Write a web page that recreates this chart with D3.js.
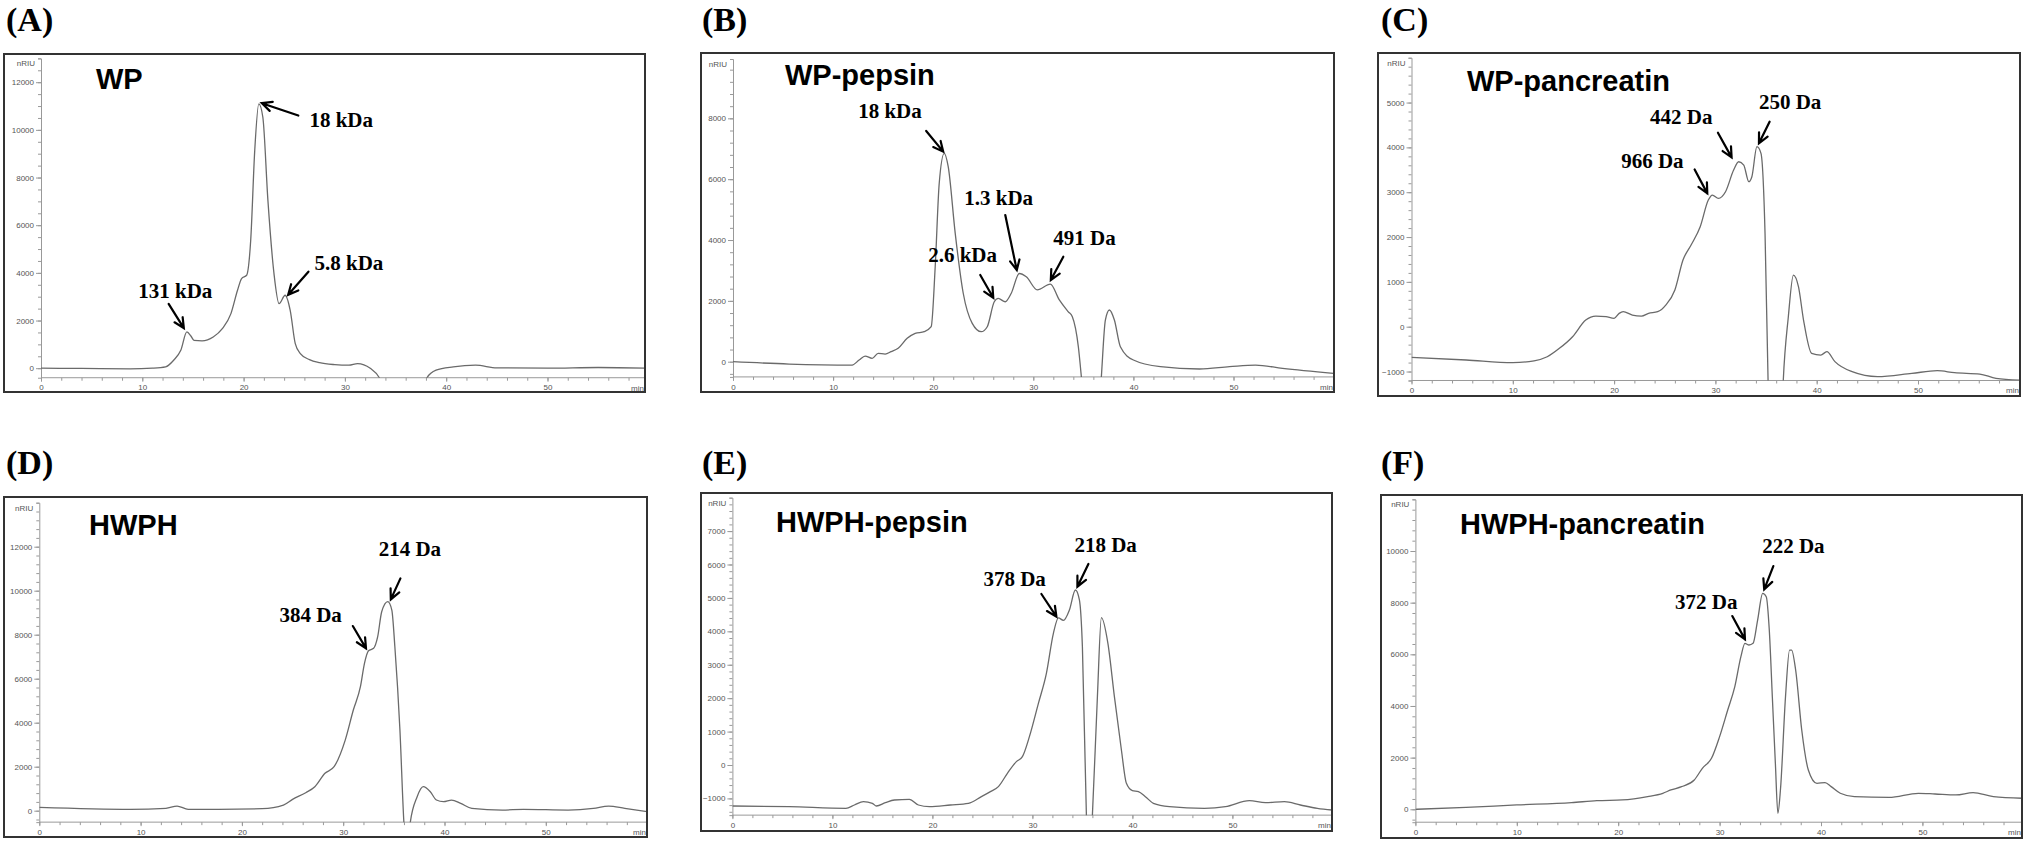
<!DOCTYPE html>
<html><head><meta charset="utf-8">
<script src="https://cdn.jsdelivr.net/npm/d3@7"></script>
<style>html,body{margin:0;padding:0;background:#fff;} svg{display:block;background:#fff}</style>
</head><body>
<svg id="chart" width="2025" height="842"></svg>
<script>
// ---------------- DATA (retention time in min, signal in nRIU) ----------------
const wpTime   = [0,4,8.8,11,12.3,13.1,13.8,14.4,14.8,15.1,15.9,17,17.9,18.75,19.4,19.8,20.3,20.7,21.1,21.5,21.9,22.4,23,23.5,24.1,24.6,25.1,25.6,26.5,27.5,29,30.4,31.25,32.5,33.4,34,37.5,38.1,39,40.7,42.9,45,50,55,60];
const wpSignal = [0,-10,-28,0,56,335,750,1520,1350,1170,1150,1310,1660,2290,3270,3760,3900,5360,9140,11090,10530,7040,3970,2710,3060,2430,1030,615,360,230,150,125,195,0,-400,-1000,-1000,-400,-84,56,125,14,0,30,0];

const wpPepTime   = [0,5.6,11.9,12.6,13.2,13.9,14.5,15.2,15.8,16.5,17.4,18.2,19.1,19.8,20.2,20.6,21.1,21.5,22.2,23,23.9,24.8,25.4,26.1,26.5,27.2,27.8,28.6,29.3,30.4,31.7,32.6,33.5,33.9,34.5,34.8,35.2,36.5,36.8,37.2,37.6,38.1,38.7,40,42.7,46.6,49.6,52.2,54.9,60];
const wpPepSignal = [0,-77,-110,55,186,110,274,252,330,440,767,930,986,1150,3120,5860,6850,6410,4220,2250,1260,986,1150,1970,2080,1970,2250,2900,2790,2360,2550,2030,1640,1480,490,-490,-2000,-2000,-490,1370,1700,1370,490,55,-164,-240,-164,-110,-220,-384];

const wpPanTime   = [0,5.4,10,12.1,13.4,14.6,15.9,17.2,18.2,19.2,20,20.5,20.9,21.8,22.7,23.4,24.3,25.1,26,26.8,27.6,28.5,29.3,29.7,30.3,31,31.8,32.3,32.8,33.3,33.6,34.1,34.5,34.9,35.2,35.5,36.4,36.7,37.2,37.7,38.2,38.7,39.5,40.4,41,41.8,43.5,46,49.4,51.9,53.6,56.1,57.7,60];
const wpPanSignal = [-684,-743,-803,-760,-670,-483,-223,149,238,223,186,297,335,260,238,297,335,483,818,1487,1822,2230,2825,2937,2862,3011,3494,3680,3606,3234,3346,4015,3866,2082,-1200,-3000,-3000,-1200,223,1152,892,149,-595,-632,-558,-780,-1004,-1115,-1041,-981,-1026,-1056,-1152,-1190];

const hwphTime   = [0,9,12.5,13.6,14.7,17.7,22,24.1,25,26.3,27.2,28.2,29.1,30.2,31,31.7,32.1,32.5,33,33.4,33.8,34.4,34.8,35.1,35.6,36,36.3,36.6,37.3,37.9,38.6,39.2,39.9,40.7,41.6,42.7,45.7,47.8,52.2,54.7,56.2,57.8,60];
const hwphSignal = [150,60,106,212,60,60,90,258,515,818,1090,1700,2000,3210,4575,5635,6700,7270,7380,7900,9045,9500,9120,7450,3670,-600,-2000,-600,636,1090,864,485,409,485,333,106,30,60,30,106,212,106,-45];

const hwphPepTime   = [0,5.7,11.35,12.2,13.1,14,14.4,15.3,16.2,17.7,18.6,19.7,21.8,23.6,24.9,25.8,26.6,27.5,28.4,29,29.7,30.6,31.4,32.1,32.6,33.1,33.7,34.3,34.7,35,35.4,35.7,36,36.5,36.9,37.55,38.2,38.9,39.4,40,40.6,41.3,42.1,43.7,47.2,49.3,51.7,53.3,55.2,56.8,58.5,60];
const hwphPepSignal = [-1227,-1247,-1297,-1197,-1097,-1147,-1227,-1127,-1047,-1027,-1197,-1247,-1197,-1147,-948,-798,-648,-249,100,250,848,1845,2743,3940,4400,4330,4640,5237,4940,3540,-1500,-3000,-1500,2045,4409,3640,2045,449,-549,-768,-798,-948,-1147,-1247,-1297,-1247,-1067,-1127,-1097,-1197,-1297,-1347];

const hwphPanTime   = [0,5,10,15.4,17.9,20.4,22.9,24.4,25.2,26.25,27.5,28.3,29.2,30,30.8,31.5,32.1,32.5,32.9,33.3,33.75,34.25,34.6,34.9,35.2,35.5,35.75,36,36.5,36.9,37.1,37.5,38.1,38.75,39.6,40.4,41,41.9,43.3,46.7,49.6,51.25,53.3,55,57,60];
const hwphPanSignal = [0,77,168,258,335,361,490,620,748,877,1135,1587,1974,2812,3844,4747,5908,6424,6360,6424,7327,8359,8230,6940,4360,1780,-155,748,4360,6166,6166,5392,3070,1522,1006,1032,877,620,490,464,620,593,555,645,490,425];

// tick labels
const xTickValues = [0,10,20,30,40,50];
const yTicksA = [0,2000,4000,6000,8000,10000,12000];
const yTicksB = [0,2000,4000,6000,8000];
const yTicksC = [-1000,0,1000,2000,3000,4000,5000];
const yTicksD = [0,2000,4000,6000,8000,10000,12000];
const yTicksE = [-1000,0,1000,2000,3000,4000,5000,6000,7000];
const yTicksF = [0,2000,4000,6000,8000,10000];

const panelLetters = ["(A)","(B)","(C)","(D)","(E)","(F)"];
const sampleNames  = ["WP","WP-pepsin","WP-pancreatin","HWPH","HWPH-pepsin","HWPH-pancreatin"];

// peak annotations: label, text anchor [min, nRIU], arrow tail, arrow head
const annotA = [
  {label:"131 kDa", text:[9.6,2950],  tail:[12.6,2700], head:[14.1,1680]},
  {label:"18 kDa",  text:[26.5,10140], tail:[25.4,10600], head:[21.8,11120]},
  {label:"5.8 kDa", text:[27.0,4135], tail:[26.4,4050], head:[24.4,3080]}
];
const annotB = [
  {label:"18 kDa",  text:[12.5,8000], tail:[19.3,7585], head:[21.0,6905]},
  {label:"2.6 kDa", text:[19.5,3290], tail:[24.7,2850], head:[26.0,2100]},
  {label:"1.3 kDa", text:[23.1,5150], tail:[27.2,4820], head:[28.35,3010]},
  {label:"491 Da",  text:[32.0,3836], tail:[33.0,3450], head:[31.75,2685]}
];
const annotC = [
  {label:"966 Da", text:[20.7,3532], tail:[27.95,3509], head:[29.2,2974]},
  {label:"442 Da", text:[23.55,4513], tail:[30.25,4327], head:[31.6,3777]},
  {label:"250 Da", text:[34.3,4848], tail:[35.35,4572], head:[34.3,4090]}
];
const annotD = [
  {label:"384 Da", text:[23.7,8590], tail:[30.95,8393], head:[32.25,7378]},
  {label:"214 Da", text:[33.5,11575], tail:[35.65,10560], head:[34.7,9605]}
];
const annotE = [
  {label:"378 Da", text:[25.1,5367], tail:[30.9,5117], head:[32.4,4439]},
  {label:"218 Da", text:[34.2,6364], tail:[35.6,6015], head:[34.5,5337]}
];
const annotF = [
  {label:"372 Da", text:[25.6,7740], tail:[31.25,7482], head:[32.5,6579]},
  {label:"222 Da", text:[34.2,9933], tail:[35.3,9417], head:[34.4,8514]}
];

// ---------------- LAYOUT ----------------
const layout = [
  {box:[4,54,645,392],    x0:41,     ppm:10.13, y0:368.2, ppu:0.023833, ymin:-400,  ymax:13000, minor:500, title:[96,89],    letter:[6,31]},
  {box:[701,53,1334,392], x0:733,    ppm:10.01, y0:361.7, ppu:0.03042,  ymin:-500,  ymax:9950,  minor:400, title:[785,85],   letter:[702,31]},
  {box:[1378,53,2020,396],x0:1411.5, ppm:10.13, y0:326.7, ppu:0.04483,  ymin:-1200, ymax:6000,  minor:200, title:[1467,91],  letter:[1381,31]},
  {box:[4,497,647,837],   x0:39.3,   ppm:10.13, y0:810.7, ppu:0.022,    ymin:-520,  ymax:14000, minor:400, title:[89,535],   letter:[6,474]},
  {box:[701,493,1332,831],x0:732.4,  ppm:10.0,  y0:765,   ppu:0.033417, ymin:-1500, ymax:8000,  minor:200, title:[776,532],  letter:[702,474]},
  {box:[1381,495,2022,838],x0:1415.4,ppm:10.14, y0:809.3, ppu:0.02583,  ymin:-500,  ymax:12000, minor:400, title:[1460,534], letter:[1381,474]}
];
const series = [
  [wpTime, wpSignal], [wpPepTime, wpPepSignal], [wpPanTime, wpPanSignal],
  [hwphTime, hwphSignal], [hwphPepTime, hwphPepSignal], [hwphPanTime, hwphPanSignal]
];
const yTicks = [yTicksA, yTicksB, yTicksC, yTicksD, yTicksE, yTicksF];
const annots = [annotA, annotB, annotC, annotD, annotE, annotF];

const svg = d3.select("#chart");
svg.append("rect").attr("width",2025).attr("height",842).attr("fill","#fff");

const tickFont = "Liberation Sans, Arial, sans-serif";

layout.forEach((p, i) => {
  const g = svg.append("g");
  const x = d3.scaleLinear().domain([0,60]).range([p.x0, p.x0 + 60*p.ppm]);
  const y = d3.scaleLinear().domain([p.ymin, p.ymax]).range([p.y0 - p.ymin*p.ppu, p.y0 - p.ymax*p.ppu]);
  const [bx1, by1, bx2, by2] = p.box;
  const axisY = y(p.ymin);
  const xRight = Math.min(x(60), bx2 - 1);

  // panel letter
  svg.append("text").attr("x", p.letter[0]).attr("y", p.letter[1])
    .attr("font-family","Liberation Serif, Times New Roman, serif").attr("font-weight","bold")
    .attr("font-size", 34).attr("fill","#000").text(panelLetters[i]);

  // y axis minor ticks
  const minorY = d3.range(Math.ceil(p.ymin/p.minor)*p.minor, p.ymax + 1, p.minor);
  g.append("g").attr("transform", `translate(${p.x0},0)`)
    .call(d3.axisLeft(y).tickValues(minorY).tickSize(3).tickFormat(""))
    .call(a => a.select(".domain").remove())
    .call(a => a.selectAll("line").attr("stroke","#999"));
  // y axis major
  g.append("g").attr("transform", `translate(${p.x0},0)`)
    .call(d3.axisLeft(y).tickValues(yTicks[i]).tickSize(5).tickSizeOuter(3).tickPadding(2).tickFormat(d3.format("d")))
    .call(a => a.select(".domain").attr("stroke","#999"))
    .call(a => a.selectAll("line").attr("stroke","#999"))
    .call(a => a.selectAll("text").attr("font-family", tickFont).attr("font-size", 8).attr("fill","#555"));

  // x axis minor
  const minorX = d3.range(0, 60, 2);
  g.append("g").attr("transform", `translate(0,${axisY})`)
    .call(d3.axisBottom(x).tickValues(minorX).tickSize(3).tickFormat(""))
    .call(a => a.select(".domain").remove())
    .call(a => a.selectAll("line").attr("stroke","#999"));
  g.append("g").attr("transform", `translate(0,${axisY})`)
    .call(d3.axisBottom(x).tickValues(xTickValues).tickSize(4).tickSizeOuter(0).tickPadding(3))
    .call(a => a.select(".domain").attr("stroke","#999").attr("d", `M${p.x0},0H${xRight}`))
    .call(a => a.selectAll("line").attr("stroke","#999"))
    .call(a => a.selectAll("text").attr("font-family", tickFont).attr("font-size", 8).attr("fill","#555"));

  // labels: nRIU and min
  g.append("text").attr("x", p.x0 - 6).attr("y", y(p.ymax) + 8).attr("text-anchor","end")
    .attr("font-family", tickFont).attr("font-size", 8).attr("fill","#555").text("nRIU");
  g.append("text").attr("x", bx2 - 1).attr("y", axisY + 13).attr("text-anchor","end")
    .attr("font-family", tickFont).attr("font-size", 8).attr("fill","#555").text("min");

  // clip
  const cid = "clip" + i;
  svg.append("clipPath").attr("id", cid).append("rect")
    .attr("x", p.x0).attr("y", by1).attr("width", bx2 - p.x0).attr("height", axisY - by1);

  const [tt, vv] = series[i];
  const line = d3.line().x(k => x(tt[k])).y(k => y(vv[k])).curve(d3.curveMonotoneX);
  g.append("path").attr("clip-path", `url(#${cid})`)
    .attr("d", line(d3.range(tt.length)))
    .attr("fill","none").attr("stroke","#6a6a6a").attr("stroke-width",1.3);

  // title
  g.append("text").attr("x", p.title[0]).attr("y", p.title[1])
    .attr("font-family","Liberation Sans, Arial, sans-serif").attr("font-weight","bold")
    .attr("font-size", 29).attr("fill","#000").text(sampleNames[i]);

  // annotations
  annots[i].forEach(a => {
    g.append("text").attr("x", x(a.text[0])).attr("y", y(a.text[1]))
      .attr("font-family","Liberation Serif, Times New Roman, serif").attr("font-weight","bold")
      .attr("font-size", 21).attr("fill","#000").text(a.label);
    const x1 = x(a.tail[0]), y1 = y(a.tail[1]), x2 = x(a.head[0]), y2 = y(a.head[1]);
    const ang = Math.atan2(y2 - y1, x2 - x1), L = 11, w = 0.45;
    const d = `M${x1},${y1}L${x2},${y2}M${x2 - L*Math.cos(ang - w)},${y2 - L*Math.sin(ang - w)}L${x2},${y2}L${x2 - L*Math.cos(ang + w)},${y2 - L*Math.sin(ang + w)}`;
    g.append("path").attr("d", d).attr("fill","none").attr("stroke","#000")
      .attr("stroke-width", 2.2).attr("stroke-linecap","round").attr("stroke-linejoin","miter");
  });

  // frame
  g.append("rect").attr("x", bx1).attr("y", by1).attr("width", bx2 - bx1).attr("height", by2 - by1)
    .attr("fill","none").attr("stroke","#333").attr("stroke-width", 2);
});
</script>
</body></html>
